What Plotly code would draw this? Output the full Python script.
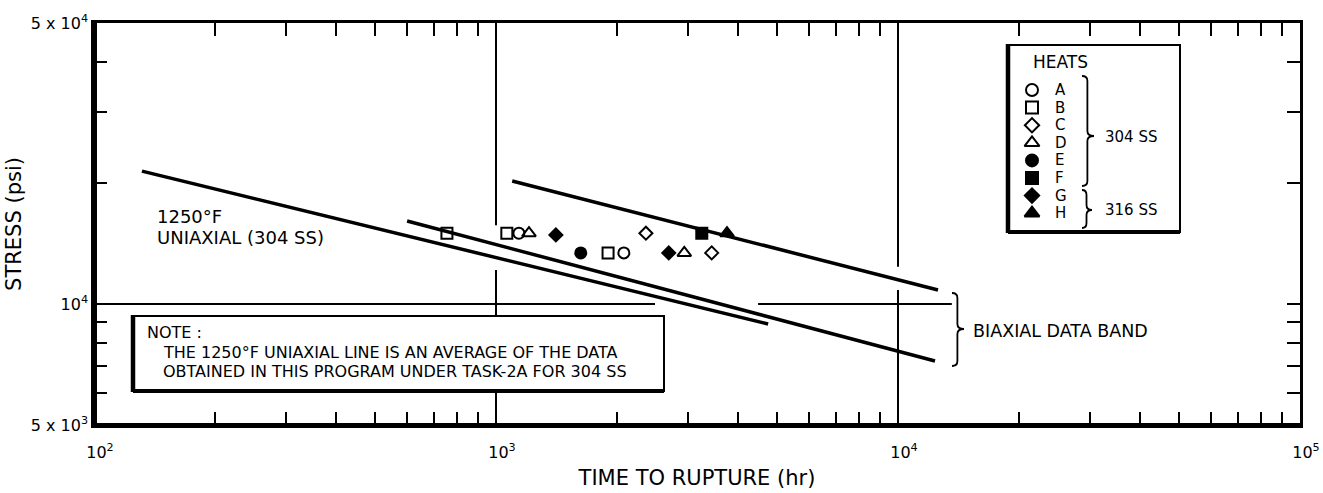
import math
import plotly.graph_objects as go

# ---------------- data ----------------
heats = ["A", "B", "C", "D", "E", "F", "G", "H"]
heat_symbols = ["circle-open", "square-open", "diamond-open", "triangle-up-open",
                "circle", "square", "diamond", "triangle-up"]
time_A = [1140, 2080];        stress_A = [15000, 13400]
time_B = [755, 1064, 1900];   stress_B = [15000, 15000, 13400]
time_C = [2360, 3440];        stress_C = [15000, 13400]
time_D = [1208, 2940];        stress_D = [15000, 13400]
time_E = [1625];              stress_E = [13400]
time_F = [3250];              stress_F = [15000]
time_G = [1409, 2690];        stress_G = [14850, 13400]
time_H = [3755];              stress_H = [15000]

uniaxial_time = [131.6, 4753];     uniaxial_stress = [21400, 8917]
band_low_time = [601, 12360];      band_low_stress = [16090, 7216]
band_high_time = [1097, 12577];    band_high_stress = [20230, 10835]

# partial grid lines (broken where drawing annotations sit)
grid_v1_time = [1000, 1000, None, 1000, 1000]
grid_v1_stress = [50000, 15700, None, 12150, 5000]
grid_v2_time = [10000, 10000, None, 10000, 10000]
grid_v2_stress = [50000, 12375, None, 10835, 5000]
grid_h_time = [100, 2486, None, 4487, 13610]
grid_h_stress = [10000, 10000, None, 10000, 10000]

x_major_vals = [100, 1000, 10000, 100000]
x_major_text = ["10<sup>2</sup>", "10<sup>3</sup>", "10<sup>4</sup>", "10<sup>5</sup>"]
x_minor_vals = [m * 10 ** e for e in (2, 3, 4) for m in range(2, 10)]
y_major_vals = [5000, 10000, 50000]
y_major_text = ["5 x 10<sup>3</sup>", "10<sup>4</sup>", "5 x 10<sup>4</sup>"]
y_minor_vals = [6000, 7000, 8000, 9000, 20000, 30000, 40000]

FONT = "DejaVu Sans"
L, R, T, B = 94, 1300, 23, 425
W, H = R - L, B - T
XMIN, XMAX = 2.0, 5.0
YMIN, YMAX = math.log10(5000), math.log10(50000)


def px(x):
    return (x - L) / W


def py(y):
    return (B - y) / H


def data_x(x):
    return 10 ** (XMIN + px(x) * (XMAX - XMIN))


def data_y(y):
    return 10 ** (YMIN + py(y) * (YMAX - YMIN))


fig = go.Figure()

series = [(time_A, stress_A), (time_B, stress_B), (time_C, stress_C), (time_D, stress_D),
          (time_E, stress_E), (time_F, stress_F), (time_G, stress_G), (time_H, stress_H)]

# grid lines
for gx, gy in [(grid_v1_time, grid_v1_stress), (grid_v2_time, grid_v2_stress), (grid_h_time, grid_h_stress)]:
    fig.add_trace(go.Scatter(x=gx, y=gy, mode="lines", line=dict(color="black", width=2),
                             hoverinfo="skip", showlegend=False, connectgaps=False))

# trend lines
for lx, ly in [(uniaxial_time, uniaxial_stress), (band_low_time, band_low_stress),
               (band_high_time, band_high_stress)]:
    fig.add_trace(go.Scatter(x=lx, y=ly, mode="lines", line=dict(color="black", width=3.5),
                             showlegend=False))


def msize(sym):
    return 10 if sym.startswith("diamond") else (12 if sym.startswith("triangle") else 11)


for name, sym, (sx, sy) in zip(heats, heat_symbols, series):
    fig.add_trace(go.Scatter(x=sx, y=sy, mode="markers", name=name,
                             marker=dict(symbol=sym, size=msize(sym), color="black",
                                         line=dict(color="black", width=2)),
                             showlegend=False))

# custom legend (drawn inside the plot, like the original)
leg_sym_x = 1032
leg_txt_x = 1054
leg_row0 = 90
leg_step = 17.6
leg_rows = [leg_row0 + i * leg_step for i in range(len(heats))]
for name, sym, ry in zip(heats, heat_symbols, leg_rows):
    fig.add_trace(go.Scatter(x=[data_x(leg_sym_x)], y=[data_y(ry)], mode="markers",
                             showlegend=False, hoverinfo="skip",
                             marker=dict(symbol=sym, size=msize(sym) + 1, color="black",
                                         line=dict(color="black", width=2))))

shapes = []
annotations = []


def line(x0, y0, x1, y1, w):
    shapes.append(dict(type="line", xref="paper", yref="paper", x0=px(x0), y0=py(y0),
                       x1=px(x1), y1=py(y1), line=dict(color="black", width=w)))


def box(x0, y0, x1, y1, layer="above"):
    shapes.append(dict(type="rect", xref="paper", yref="paper", x0=px(x0), y0=py(y0),
                       x1=px(x1), y1=py(y1), fillcolor="white", layer=layer,
                       line=dict(color="black", width=2)))
    line(x0, y0 - 1, x0, y1 + 1, 4.5)
    line(x0, y1, x1, y1, 4)


def brace(x, y0, y1, w, tip=None):
    if tip is None:
        tip = (y0 + y1) / 2
    m = x + w * 0.45
    r = min(5, (y1 - y0) / 6)
    pts = [
        ("M", [(x, y0)]),
        ("Q", [(m, y0), (m, y0 + r)]),
        ("L", [(m, tip - r)]),
        ("Q", [(m, tip), (x + w, tip)]),
        ("Q", [(m, tip), (m, tip + r)]),
        ("L", [(m, y1 - r)]),
        ("Q", [(m, y1), (x, y1)]),
    ]
    path = " ".join(cmd + " " + " ".join("%.5f,%.5f" % (px(a), py(b)) for a, b in p) for cmd, p in pts)
    shapes.append(dict(type="path", xref="paper", yref="paper", path=path,
                       line=dict(color="black", width=1.8)))


def text(x, y, s, size=15, anchor="left"):
    annotations.append(dict(xref="paper", yref="paper", x=px(x), y=py(y), text=s,
                            showarrow=False, xanchor=anchor, yanchor="middle", borderpad=0,
                            font=dict(family=FONT, size=size, color="black")))


# thick left / bottom frame
line(L, T - 1, L, B + 1, 6)
line(L, B, R, B, 4)

# legend box (below the traces so its symbols show)
box(1008, 45, 1180, 232, layer="below")
text(1060, 62, "HEATS", 17, "center")
for name, ry in zip(heats, leg_rows):
    text(leg_txt_x, ry, name, 15)
brace(1082, 76, 186, 12, 136)
text(1104, 137, "304 SS", 15)
brace(1082, 190, 228, 10, 210)
text(1104, 210, "316 SS", 15)

# note box
box(133, 316, 664, 391)
text(146, 332, "NOTE :", 16)
text(162, 352, "THE 1250°F UNIAXIAL LINE IS AN AVERAGE OF THE DATA", 16)
text(162, 371, "OBTAINED IN THIS PROGRAM UNDER TASK-2A FOR 304 SS", 16)

# line labels
text(156, 216, "1250°F", 18)
text(156, 238, "UNIAXIAL (304 SS)", 18)
brace(952, 293, 366, 12, 329)
text(972, 331, "BIAXIAL DATA BAND", 17.5)

axis_common = dict(type="log", showgrid=False, zeroline=False, showline=True, linecolor="black",
                   linewidth=2.5, mirror="ticks", ticks="inside", ticklen=13, tickwidth=2,
                   tickcolor="black", tickmode="array", automargin=False,
                   tickfont=dict(family=FONT, size=16, color="black"))
minor_common = dict(ticks="inside", ticklen=13, tickwidth=2, tickcolor="black", showgrid=False,
                    tickmode="array")

fig.update_layout(
    width=1323, height=493,
    margin=dict(l=L, r=1323 - R, t=T, b=493 - B, autoexpand=False),
    paper_bgcolor="white", plot_bgcolor="white",
    xaxis=dict(axis_common, range=[XMIN, XMAX], tickvals=x_major_vals, ticktext=x_major_text,
               minor=dict(minor_common, tickvals=x_minor_vals),
               ticklabelstandoff=11, ticklabelshift=6,
               title=dict(text="TIME TO RUPTURE (hr)", standoff=10,
                          font=dict(family=FONT, size=21, color="black"))),
    yaxis=dict(axis_common, range=[YMIN, YMAX], tickvals=y_major_vals, ticktext=y_major_text,
               minor=dict(minor_common, tickvals=y_minor_vals),
               title=dict(text="STRESS (psi)", standoff=4,
                          font=dict(family=FONT, size=21, color="black"))),
    shapes=shapes, annotations=annotations, showlegend=False,
)

fig.write_html("out.html")
